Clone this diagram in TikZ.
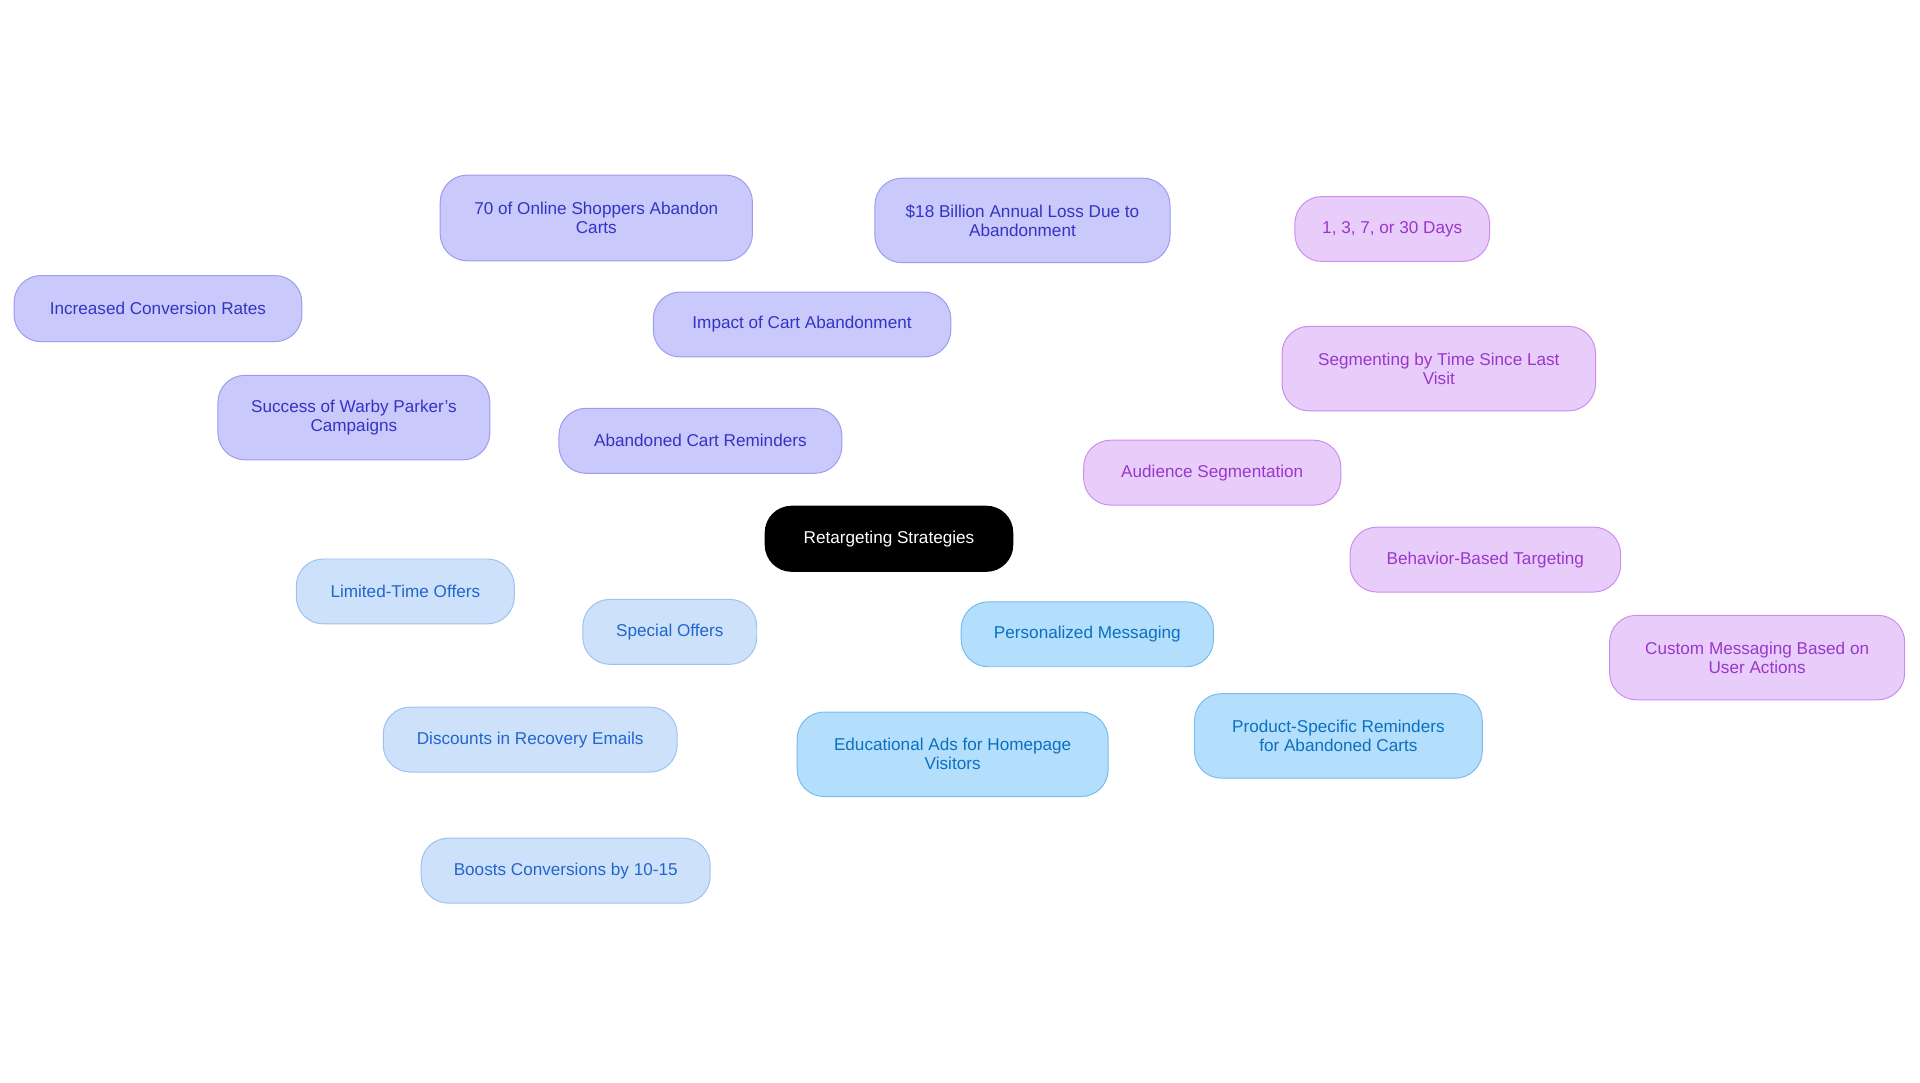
\documentclass[tikz,border=0pt]{standalone}
\usepackage{fontspec}
\setmainfont{Liberation Sans}
\usetikzlibrary{backgrounds}
\definecolor{pF}{HTML}{C9C9FB}\definecolor{pD}{HTML}{9C9CF0}\definecolor{pT}{HTML}{3434C4}
\definecolor{mF}{HTML}{E8CDFB}\definecolor{mD}{HTML}{CE8CEE}\definecolor{mT}{HTML}{9A36CC}
\definecolor{lF}{HTML}{CDE1FB}\definecolor{lD}{HTML}{9CC2F0}\definecolor{lT}{HTML}{2266CC}
\definecolor{sF}{HTML}{B3DEFC}\definecolor{sD}{HTML}{78BCEE}\definecolor{sT}{HTML}{0C70C0}
\tikzset{
 box/.style={rounded corners=22pt,line width=0.8pt,align=center,font=\fontsize{14}{15.5}\selectfont,inner sep=0pt},
 pbox/.style={box,fill=pF,draw=pD,text=pT},
 mbox/.style={box,fill=mF,draw=mD,text=mT},
 lbox/.style={box,fill=lF,draw=lD,text=lT},
 sbox/.style={box,fill=sF,draw=sD,text=sT},
 pe/.style={draw=pD,line width=2pt},
 me/.style={draw=mD,line width=2pt},
 le/.style={draw=lD,line width=2pt},
 se/.style={draw=sD,line width=2pt},
}
\begin{document}
\begin{tikzpicture}[x=1pt,y=-1pt]
\useasboundingbox[fill=white] (0,0) rectangle (1568,884);
\node[box,fill=black!90!blue!60!black,fill=black,text=white,minimum width=203pt,minimum height=54pt] (root) at (726,440) {Retargeting Strategies};
\node[pbox,minimum width=231pt,minimum height=53pt] (acr) at (572,360) {Abandoned Cart Reminders};
\node[pbox,minimum width=243pt,minimum height=53pt] (imp) at (655,265) {Impact of Cart Abandonment};
\node[pbox,minimum width=255pt,minimum height=70pt] (sev) at (487,178) {70 of Online Shoppers Abandon\\Carts};
\node[pbox,minimum width=241pt,minimum height=69pt] (bil) at (835,180) {\$18 Billion Annual Loss Due to\\Abandonment};
\node[pbox,minimum width=222pt,minimum height=69pt] (war) at (289,341) {Success of Warby Parker's\\Campaigns};
\node[pbox,minimum width=235pt,minimum height=54pt] (inc) at (129,252) {Increased Conversion Rates};
\node[mbox,minimum width=210pt,minimum height=53pt] (aud) at (990,386) {Audience Segmentation};
\node[mbox,minimum width=256pt,minimum height=69pt] (seg) at (1175,301) {Segmenting by Time Since Last\\Visit};
\node[mbox,minimum width=159pt,minimum height=53pt] (day) at (1137,187) {1, 3, 7, or 30 Days};
\node[mbox,minimum width=221pt,minimum height=53pt] (beh) at (1213,457) {Behavior-Based Targeting};
\node[mbox,minimum width=241pt,minimum height=69pt] (cus) at (1435,537) {Custom Messaging Based on\\User Actions};
\node[sbox,minimum width=206pt,minimum height=53pt] (pm) at (888,518) {Personalized Messaging};
\node[sbox,minimum width=254pt,minimum height=69pt] (edu) at (778,616) {Educational Ads for Homepage\\Visitors};
\node[sbox,minimum width=235pt,minimum height=69pt] (pro) at (1093,601) {Product-Specific Reminders\\for Abandoned Carts};
\node[lbox,minimum width=142pt,minimum height=53pt] (spo) at (547,516) {Special Offers};
\node[lbox,minimum width=178pt,minimum height=53pt] (ltd) at (331,483) {Limited-Time Offers};
\node[lbox,minimum width=240pt,minimum height=53pt] (dis) at (433,604) {Discounts in Recovery Emails};
\node[lbox,minimum width=236pt,minimum height=53pt] (boo) at (462,711) {Boosts Conversions by 10-15};
\begin{scope}[on background layer]
\draw[pe] (root)--(acr); \draw[pe] (acr)--(imp); \draw[pe] (imp)--(sev); \draw[pe] (imp)--(bil);
\draw[pe] (acr)--(war); \draw[pe] (war)--(inc);
\draw[me] (root)--(aud); \draw[me] (aud)--(seg); \draw[me] (seg)--(day); \draw[me] (aud)--(beh); \draw[me] (beh)--(cus);
\draw[se] (root)--(pm); \draw[se] (pm)--(edu); \draw[se] (pm)--(pro);
\draw[le] (root)--(spo); \draw[le] (spo)--(ltd); \draw[le] (spo)--(dis); \draw[le] (dis)--(boo);
\end{scope}
\end{tikzpicture}
\end{document}
